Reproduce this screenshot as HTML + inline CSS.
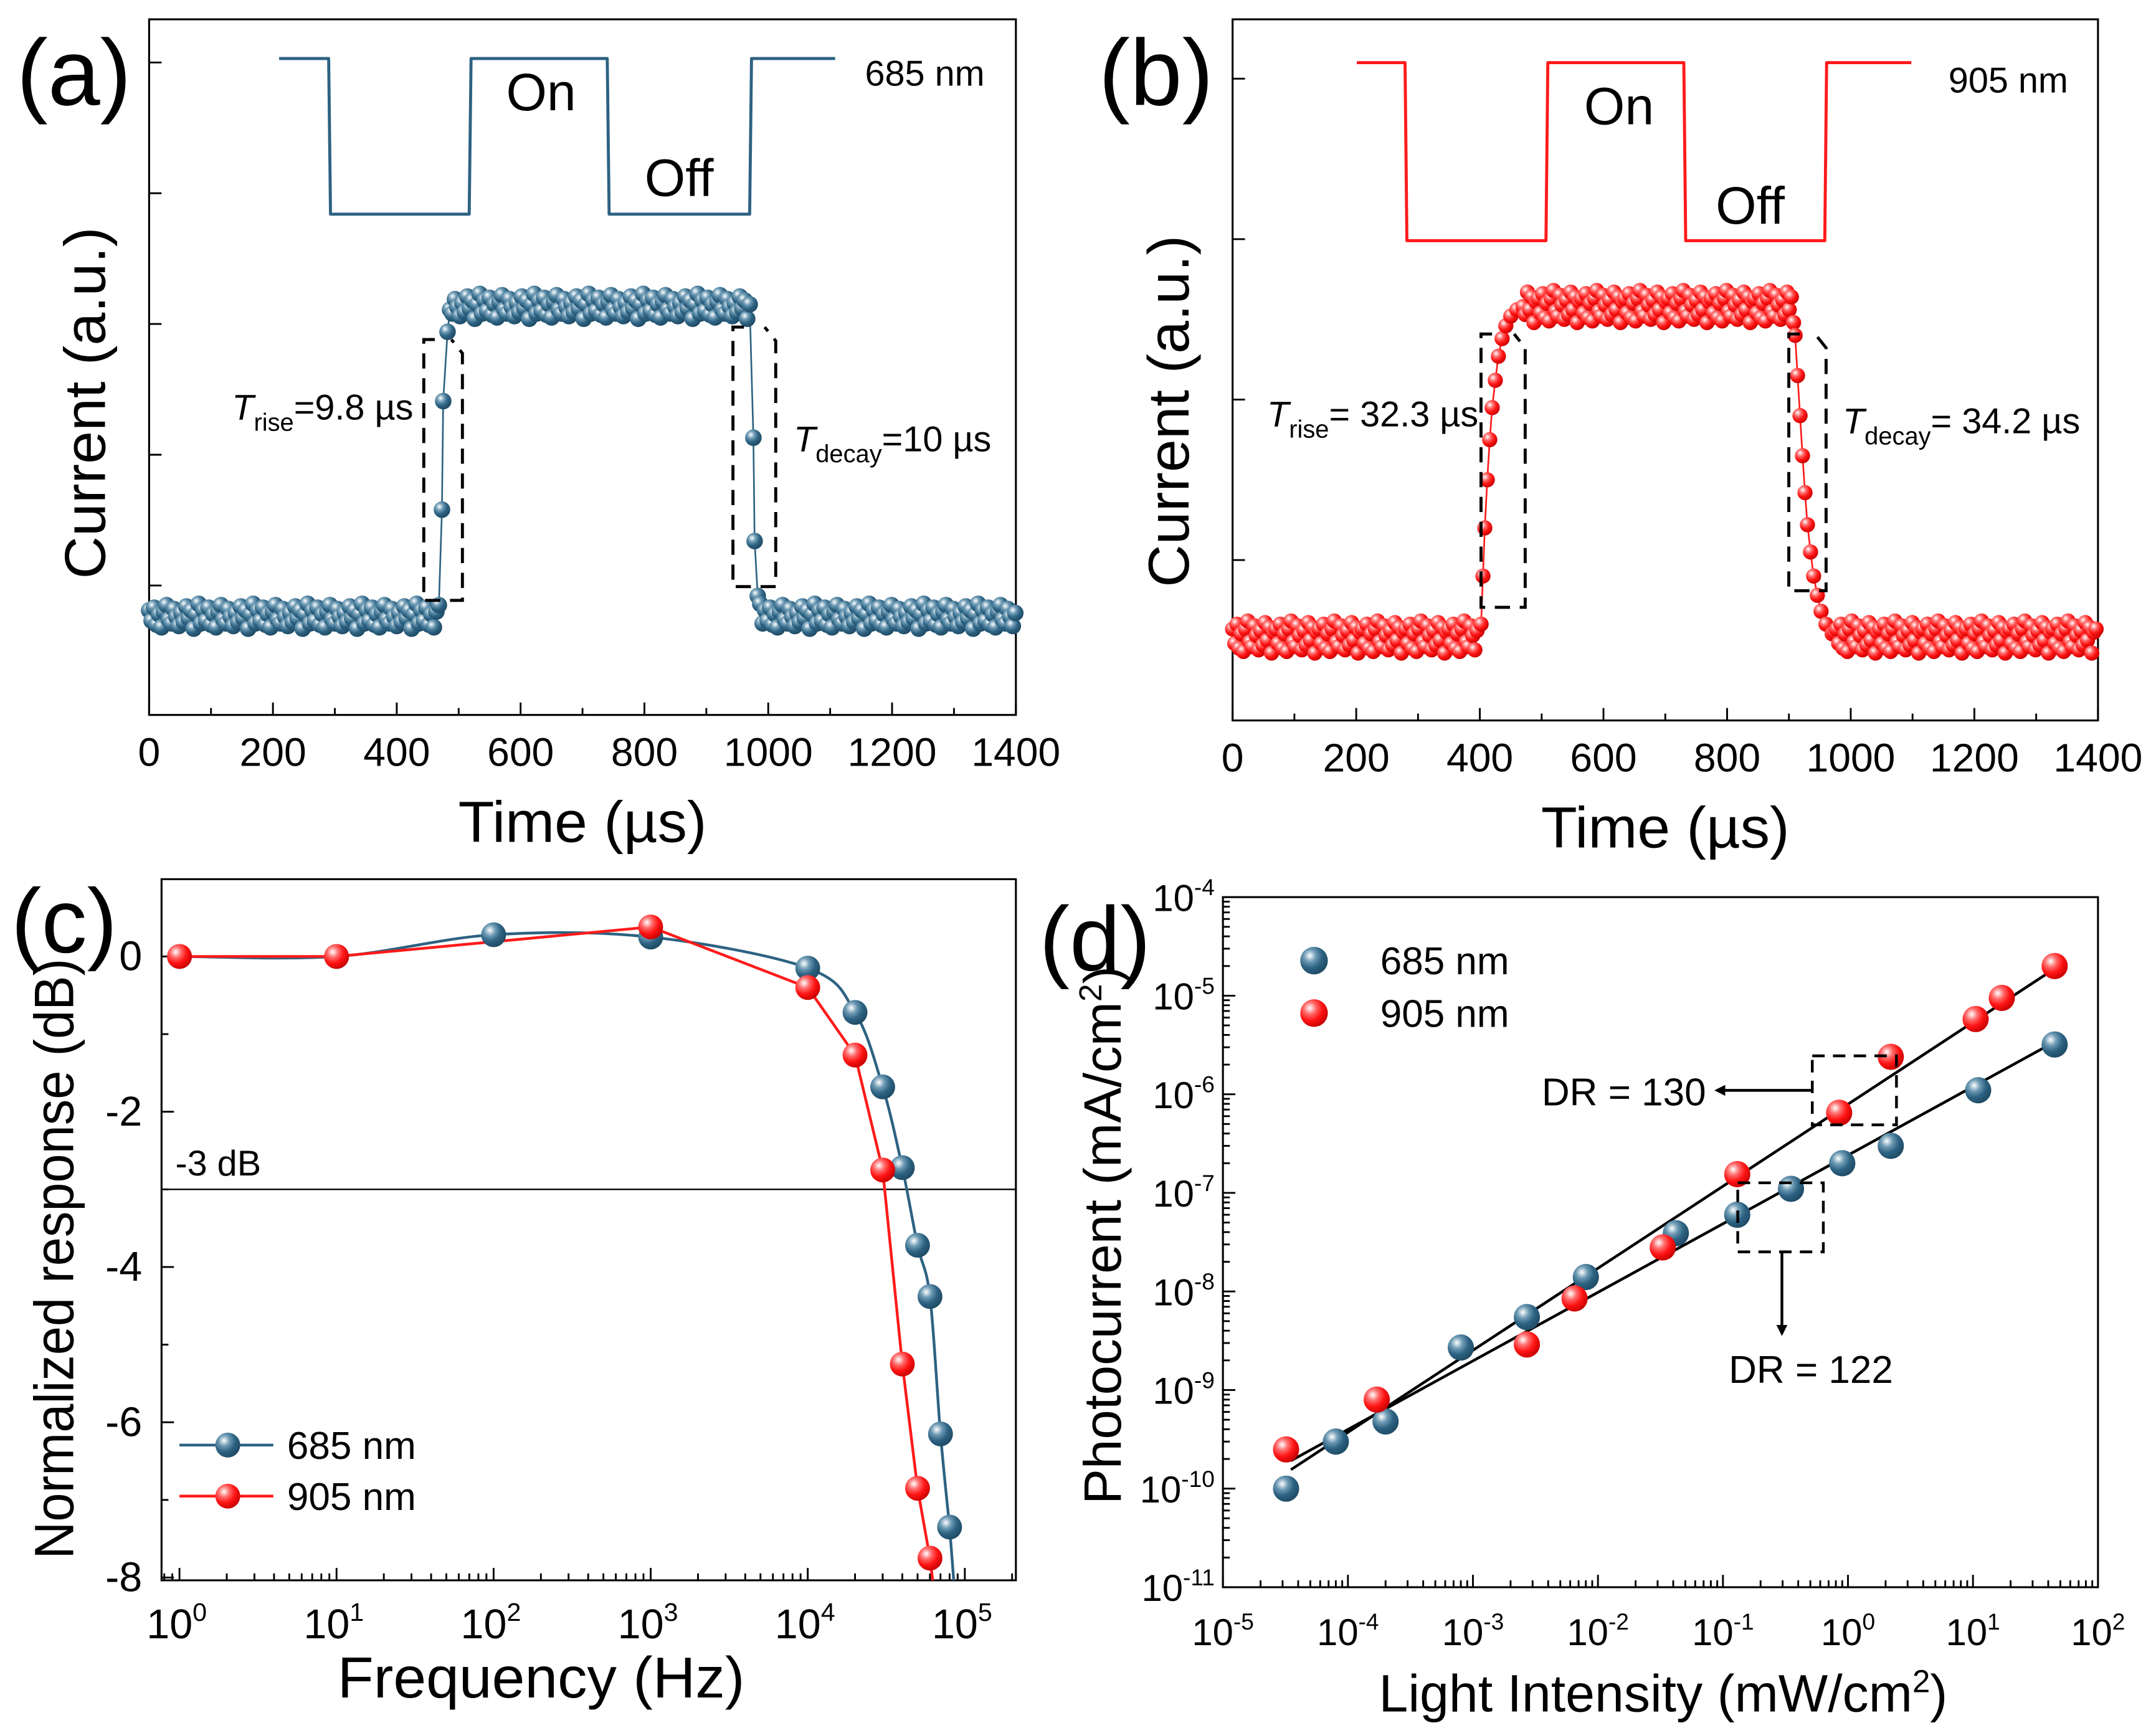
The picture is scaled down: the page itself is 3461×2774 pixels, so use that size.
<!DOCTYPE html>
<html><head><meta charset="utf-8"><style>
html,body{margin:0;padding:0;background:#fff;}
svg{display:block;font-family:"Liberation Sans",Arial,sans-serif;}
</style></head><body>
<svg id="fig" width="3461" height="2774" viewBox="0 0 1562 1252" xmlns="http://www.w3.org/2000/svg">
<defs>
<radialGradient id="gBlue" cx="0.35" cy="0.32" r="0.75"><stop offset="0" stop-color="#ffffff"/><stop offset="0.3" stop-color="#6d9ab4"/><stop offset="0.6" stop-color="#2d6282"/><stop offset="1" stop-color="#1d4760"/></radialGradient>
<radialGradient id="gRed" cx="0.35" cy="0.32" r="0.75"><stop offset="0" stop-color="#ffffff"/><stop offset="0.3" stop-color="#ff6a6a"/><stop offset="0.6" stop-color="#ff1414"/><stop offset="1" stop-color="#c00000"/></radialGradient>
<marker id="arrowHead" markerWidth="8" markerHeight="8" refX="6" refY="4" orient="auto" markerUnits="userSpaceOnUse"><path d="M0,0 L8,4 L0,8 z" fill="#000"/></marker>
</defs>
</svg>
<script>
// ---------- data: panel a (685 nm) ----------
const aSquareT = [210,290,293,517,520,740,743,970,973,1108];
const aSquareV = [4.03,4.03,2.84,2.84,4.03,4.03,2.84,2.84,4.03,4.03];
const aLow = -0.24, aHigh = 2.13;
const aRiseT = [473,475,482];
const aRiseV = [0.58,1.41,1.94];
const aDecayT = [976,978,983];
const aDecayV = [1.13,0.34,-0.08];
const aJitter = [0.05,-0.03,0.07,-0.06,0.02,-0.08,0.04,0.09,-0.02,-0.05,0.06,0.0,-0.07,0.03,-0.04,0.08,-0.01,0.05,-0.09,0.02,0.1,-0.05];
// ---------- data: panel b (905 nm) ----------
const bSquareT = [201,279,282,507,510,730,733,958,961,1098];
const bSquareV = [3.10,3.10,1.99,1.99,3.10,3.10,1.99,1.99,3.10,3.10];
const bLow = -0.48, bHigh = 1.58;
const bRiseT = [402,405,408,412,416,420,425,430,436,442,450,460,470];
const bRiseV = [-0.40,-0.10,0.20,0.50,0.75,0.95,1.12,1.27,1.38,1.46,1.52,1.56,1.58];
const bDecayT = [910,914,918,922,926,930,935,940,946,952,960,970];
const bDecayV = [1.40,1.15,0.90,0.65,0.42,0.22,0.05,-0.10,-0.22,-0.32,-0.40,-0.46];
const bJitter = [0.05,-0.04,0.08,-0.07,0.02,-0.09,0.05,0.1,-0.03,-0.06,0.07,0.01,-0.08,0.04,-0.05,0.09,-0.02,0.06,-0.1,0.03];
// ---------- data: panel c ----------
const cFreq685 = [1,10,100,1000,1e4,2e4,3e4,4e4,5e4,6e4,7e4,8e4];
const cResp685 = [0,0,0.28,0.25,-0.15,-0.72,-1.68,-2.72,-3.72,-4.38,-6.15,-7.35];
const cFreq905 = [1,10,1000,1e4,2e4,3e4,4e4,5e4,6e4];
const cResp905 = [0,0,0.38,-0.40,-1.27,-2.75,-5.25,-6.85,-7.75];
const cYTicks = [0,-2,-4,-6,-8];
const cXTickExp = [0,1,2,3,4,5];
// ---------- data: panel d ----------
const dInt685 = [3.2e-5,8e-5,2e-4,8e-4,2.7e-3,8e-3,4.2e-2,1.3e-1,3.5e-1,9e-1,2.2,11,45];
const dCur685 = [1e-10,3e-10,4.8e-10,2.7e-9,5.5e-9,1.4e-8,3.9e-8,6e-8,1.1e-7,2e-7,3e-7,1.1e-6,3.2e-6];
const dInt905 = [3.2e-5,1.7e-4,2.7e-3,6.5e-3,3.3e-2,1.3e-1,8.5e-1,2.2,10.5,17,45];
const dCur905 = [2.5e-10,8e-10,2.9e-9,8.5e-9,2.8e-8,1.55e-7,6.5e-7,2.4e-6,5.8e-6,9.5e-6,2e-5];
const dXTickExp = [-5,-4,-3,-2,-1,0,1,2];
const dYTickExp = [-4,-5,-6,-7,-8,-9,-10,-11];

const NS = "http://www.w3.org/2000/svg";
const svg = document.getElementById('fig');
function el(tag, attrs, parent){
  const e = document.createElementNS(NS, tag);
  for (const k in attrs) e.setAttribute(k, attrs[k]);
  (parent||svg).appendChild(e);
  return e;
}
function lin(d0,d1,r0,r1){return v=>r0+(v-d0)*(r1-r0)/(d1-d0);}
function logs(d0,d1,r0,r1){return v=>r0+(Math.log10(v)-d0)*(r1-r0)/(d1-d0);}
function txt(parent,x,y,s,size,anchor,name,len){
  const t = el('text',{x:x,y:y,'font-size':size,'text-anchor':anchor||'middle',fill:'#000'},parent);
  if(len){t.setAttribute('textLength',len);t.setAttribute('lengthAdjust','spacingAndGlyphs');}
  t.textContent = s;
  
  
  return t;
}
function powLabel(parent,x,y,exp,size,anchor,name){
  const t = el('text',{x:x,y:y,'font-size':size,'text-anchor':anchor,fill:'#000'},parent);
  
  
  const a = el('tspan',{},t); a.textContent='10';
  const b = el('tspan',{dy:-size*0.42,'font-size':size*0.62},t); b.textContent=String(exp);
  return t;
}
function frame(g,x0,y0,x1,y1){
  const r = el('rect',{x:x0,y:y0,width:x1-x0,height:y1-y0,fill:'none',stroke:'#000','stroke-width':1.4},g);
  
  
}
function tick(g,x1,y1,x2,y2){el('line',{x1:x1,y1:y1,x2:x2,y2:y2,stroke:'#000','stroke-width':1.3},g);}
function ball(g,x,y,r,grad,name){
  const c = el('circle',{cx:x,cy:y,r:r,fill:'url(#'+grad+')'},g);
  
  
}
function poly(g,pts,color,w,name,dash){
  const p = el('polyline',{points:pts.map(p=>p[0].toFixed(2)+','+p[1].toFixed(2)).join(' '),fill:'none',stroke:color,'stroke-width':w,'stroke-linejoin':'round'},g);
  if(dash) p.setAttribute('stroke-dasharray',dash);
  
  
  return p;
}

function transientPanel(cfg){
  const g = el('g',{});
  
  
  const X = lin(0,1400,cfg.x0,cfg.x1), Y = lin(cfg.vBot,cfg.vTop,cfg.y1,cfg.y0);
  frame(g,cfg.x0,cfg.y0,cfg.x1,cfg.y1);
  for(let t=0;t<=1400;t+=100){
    const L = t%200===0?9:5;
    tick(g,X(t),cfg.y1,X(t),cfg.y1-L);
    if(t%200===0) txt(g,X(t),cfg.y1+37,String(t),29,'middle','x-tick-label');
  }
  cfg.yTicks.forEach(v=>tick(g,cfg.x0,Y(v),cfg.x0+9,Y(v)));
  poly(g,cfg.sqT.map((t,i)=>[X(t),Y(cfg.sqV[i])]),cfg.color,2.2,'reference-light-trace');
  const pts=[];
  let j=0;
  for(let t=0;t<cfg.riseT[0]-4;t+=cfg.step){pts.push([t,cfg.low+cfg.jit[j++%cfg.jit.length]]);}
  cfg.riseT.forEach((t,i)=>pts.push([t,cfg.riseV[i]]));
  for(let t=cfg.riseT[cfg.riseT.length-1]+cfg.step;t<cfg.decayT[0]-2;t+=cfg.step){pts.push([t,cfg.high+cfg.jit[j++%cfg.jit.length]]);}
  cfg.decayT.forEach((t,i)=>pts.push([t,cfg.decayV[i]]));
  for(let t=cfg.decayT[cfg.decayT.length-1]+cfg.step;t<=1400;t+=cfg.step){pts.push([t,cfg.low+cfg.jit[j++%cfg.jit.length]]);}
  poly(g,pts.map(p=>[X(p[0]),Y(p[1])]),cfg.color,1.2,'response-line');
  pts.forEach(p=>ball(g,X(p[0]),Y(p[1]),cfg.r,cfg.grad,'response-point'));
  cfg.boxes.forEach(b=>{
    const p = el('path',{d:`M${b[0]+8},${b[1]} L${b[0]},${b[1]} L${b[0]},${b[3]} L${b[2]},${b[3]} L${b[2]},${b[1]+10} L${b[2]-8},${b[1]}`,fill:'none',stroke:'#000','stroke-width':2.2,'stroke-dasharray':'11,7'},g);
    
    
  });
  txt(g,(cfg.x0+cfg.x1)/2,cfg.y1+92,'Time (µs)',42,'middle','x-axis-title',180);
  const yt = txt(g,0,0,'Current (a.u.)',42,'middle','y-axis-title',255);
  yt.setAttribute('transform',`translate(${cfg.x0-32},${cfg.titleY}) rotate(-90)`);
  txt(g,cfg.lab[0],cfg.lab[1],cfg.lab[2],68,'start','panel-label');
  return g;
}

transientPanel({name:'panel-a',x0:108,x1:736,y0:14,y1:518,vBot:-0.99,vTop:4.33,yTicks:[0,1,2,3,4],titleY:292,
  color:'#2d6282',grad:'gBlue',r:6,step:4,sqT:aSquareT,sqV:aSquareV,low:aLow,high:aHigh,
  riseT:aRiseT,riseV:aRiseV,decayT:aDecayT,decayV:aDecayV,jit:aJitter,
  boxes:[[307,246,335,435],[531,237,562,425]],lab:[12,76,'(a)']});
transientPanel({name:'panel-b',x0:893,x1:1520,y0:14,y1:522,vBot:-1.0,vTop:3.37,yTicks:[0,1,2,3],titleY:298,
  color:'#ff1a1a',grad:'gRed',r:5.5,step:3.5,sqT:bSquareT,sqV:bSquareV,low:bLow,high:bHigh,
  riseT:bRiseT,riseV:bRiseV,decayT:bDecayT,decayV:bDecayV,jit:bJitter,
  boxes:[[1073,242,1105,440],[1296,242,1323,428]],lab:[796,76,'(b)']});

function annot(x,y,s,size,anchor,name){return txt(svg,x,y,s,size,anchor,name);}
annot(392,80,'On',38,'middle','on-label-a');
annot(492,142,'Off',38,'middle','off-label-a');
annot(670,62,'685 nm',26,'middle','wavelength-label-a');
annot(1173,90,'On',38,'middle','on-label-b');
annot(1268,162,'Off',38,'middle','off-label-b');
annot(1455,67,'905 nm',26,'middle','wavelength-label-b');
function subAnnot(x,y,sub,rest,name){
  const t = el('text',{x:x,y:y,'font-size':26,'text-anchor':'start',fill:'#000'});
  
  
  const a=el('tspan',{'font-style':'italic'},t);a.textContent='T';
  const b=el('tspan',{dy:8,'font-size':18},t);b.textContent=sub;
  const c=el('tspan',{dy:-8},t);c.textContent=rest;
  return t;
}
subAnnot(168,304,'rise','=9.8 µs','rise-time-label-a');
subAnnot(575,327,'decay','=10 µs','decay-time-label-a');
subAnnot(918,309,'rise','= 32.3 µs','rise-time-label-b');
subAnnot(1335,314,'decay','= 34.2 µs','decay-time-label-b');

(function(){
  const g = el('g',{});
  
  
  const x0=117,x1=736,y0=637,y1=1145;
  const X = logs(0,5,130,699), Y = lin(-8,0,1143,693);
  frame(g,x0,y0,x1,y1);
  for(let e=-1;e<=5;e++){
    for(let m=1;m<10;m++){
      const v=m*Math.pow(10,e); const px=X(v);
      if(px<x0||px>x1) continue;
      tick(g,px,y1,px,y1-(m===1?9:5));
    }
  }
  cXTickExp.forEach(e=>powLabel(g,X(Math.pow(10,e))-2,y1+42,e,30,'middle','x-tick-label'));
  for(let v=-8;v<=1;v++){ if(Y(v)<y0) continue; tick(g,x0,Y(v),x0+(v%2===0?9:5),Y(v)); }
  cYTicks.forEach(v=>txt(g,x0-14,Y(v)+10,String(v),30,'end','y-tick-label'));
  const l = el('line',{x1:x0,y1:Y(-3),x2:x1,y2:Y(-3),stroke:'#000','stroke-width':1.1},g);
  
  
  txt(g,x0+10,Y(-3)-10,'-3 dB',26,'start','minus-3db-label');
  const P = cFreq685.map((f,i)=>[X(f),Y(cResp685[i])]);
  let d=`M${P[0][0]},${P[0][1]}`;
  for(let i=0;i<P.length-1;i++){
    const p0=P[Math.max(0,i-1)],p1=P[i],p2=P[i+1],p3=P[Math.min(P.length-1,i+2)];
    d+=` C${p1[0]+(p2[0]-p0[0])/6},${p1[1]+(p2[1]-p0[1])/6} ${p2[0]-(p3[0]-p1[0])/6},${p2[1]-(p3[1]-p1[1])/6} ${p2[0]},${p2[1]}`;
  }
  const last=P[P.length-1];
  d+=` L${last[0]+3},${y1}`;
  const c1=el('path',{d:d,fill:'none',stroke:'#2d6282','stroke-width':2},g);
  
  
  const P2=cFreq905.map((f,i)=>[X(f),Y(cResp905[i])]);
  P2.push([P2[P2.length-1][0]+2,y1]);
  poly(g,P2,'#ff1a1a',2,'series-905-curve');
  cFreq685.forEach((f,i)=>ball(g,X(f),Y(cResp685[i]),9,'gBlue','series-685-point'));
  cFreq905.forEach((f,i)=>ball(g,X(f),Y(cResp905[i]),9,'gRed','series-905-point'));
  poly(g,[[130,1047],[198,1047]],'#2d6282',2,'legend-685-line');
  ball(g,165,1047,9,'gBlue','legend-685-marker');
  txt(g,208,1057,'685 nm',28,'start','legend-685-text');
  poly(g,[[130,1084],[198,1084]],'#ff1a1a',2,'legend-905-line');
  ball(g,165,1084,9,'gRed','legend-905-marker');
  txt(g,208,1094,'905 nm',28,'start','legend-905-text');
  txt(g,392,1230,'Frequency (Hz)',42,'middle','x-axis-title',295);
  const yt=txt(g,0,0,'Normalized response (dB)',40,'middle','y-axis-title',435);
  yt.setAttribute('transform',`translate(53,912) rotate(-90)`);
  txt(g,8,690,'(c)',66,'start','panel-label');
})();

(function(){
  const g = el('g',{});
  
  
  const x0=886,x1=1520,y0=650,y1=1150;
  const X = logs(-5,2,x0,x1), Y = logs(-11,-4,y1,y0);
  frame(g,x0,y0,x1,y1);
  for(let e=-5;e<2;e++) for(let m=1;m<10;m++){const px=X(m*Math.pow(10,e)); tick(g,px,y1,px,y1-(m===1?9:5));}
  for(let e=-11;e<-4;e++) for(let m=1;m<10;m++){const py=Y(m*Math.pow(10,e)); tick(g,x0,py,x0+(m===1?9:5),py);}
  dXTickExp.forEach(e=>powLabel(g,X(Math.pow(10,e)),y1+42,e,27,'middle','x-tick-label'));
  dYTickExp.forEach(e=>powLabel(g,x0-6,Y(Math.pow(10,e))+10,e,27,'end','y-tick-label'));
  function fit(xs,ys){
    const lx=xs.map(Math.log10), ly=ys.map(Math.log10), n=lx.length;
    const mx=lx.reduce((a,b)=>a+b)/n, my=ly.reduce((a,b)=>a+b)/n;
    let sxy=0,sxx=0; for(let i=0;i<n;i++){sxy+=(lx[i]-mx)*(ly[i]-my);sxx+=(lx[i]-mx)**2;}
    const s=sxy/sxx; return v=>Math.pow(10,my+s*(Math.log10(v)-mx));
  }
  const f685=fit(dInt685,dCur685), f905=fit(dInt905,dCur905);
  const xa=3.5e-5, xb=45;
  poly(g,[[X(xa),Y(f685(xa))],[X(xb),Y(f685(xb))]],'#000',2,'fit-line-685');
  poly(g,[[X(xa),Y(f905(xa))],[X(xb),Y(f905(xb))]],'#000',2,'fit-line-905');
  dInt685.forEach((v,i)=>ball(g,X(v),Y(dCur685[i]),9.5,'gBlue','series-685-point'));
  dInt905.forEach((v,i)=>ball(g,X(v),Y(dCur905[i]),9.5,'gRed','series-905-point'));
  const b1=el('rect',{x:1313,y:765,width:61,height:50,fill:'none',stroke:'#000','stroke-width':2,'stroke-dasharray':'9,6'},g);
   
  const a1=el('line',{x1:1313,y1:790,x2:1244,y2:790,stroke:'#000','stroke-width':2,'marker-end':'url(#arrowHead)'},g);
   
  txt(g,1236,801,'DR = 130',28,'end','dr-130-label');
  const b2=el('rect',{x:1259,y:857,width:62,height:50,fill:'none',stroke:'#000','stroke-width':2,'stroke-dasharray':'9,6'},g);
   
  const a2=el('line',{x1:1291,y1:907,x2:1291,y2:966,stroke:'#000','stroke-width':2,'marker-end':'url(#arrowHead)'},g);
   
  txt(g,1312,1002,'DR = 122',28,'middle','dr-122-label');
  ball(g,952,696,10,'gBlue','legend-685-marker');
  txt(g,1000,706,'685 nm',28,'start','legend-685-text');
  ball(g,952,734,10,'gRed','legend-905-marker');
  txt(g,1000,744,'905 nm',28,'start','legend-905-text');
  const xt=el('text',{x:1205,y:1240,'font-size':38,'text-anchor':'middle',fill:'#000',textLength:412,lengthAdjust:'spacingAndGlyphs'},g);
   
  let s=el('tspan',{},xt); s.textContent='Light Intensity (mW/cm';
  s=el('tspan',{dy:-14,'font-size':23},xt); s.textContent='2';
  s=el('tspan',{dy:14},xt); s.textContent=')';
  const yt=el('text',{x:0,y:0,'font-size':38,'text-anchor':'middle',fill:'#000',transform:'translate(812,895) rotate(-90)',textLength:390,lengthAdjust:'spacingAndGlyphs'},g);
   
  s=el('tspan',{},yt); s.textContent='Photocurrent (mA/cm';
  s=el('tspan',{dy:-14,'font-size':23},yt); s.textContent='2';
  s=el('tspan',{dy:14},yt); s.textContent=')';
  txt(g,753,703,'(d)',66,'start','panel-label');
})();
</script>
</body></html>
